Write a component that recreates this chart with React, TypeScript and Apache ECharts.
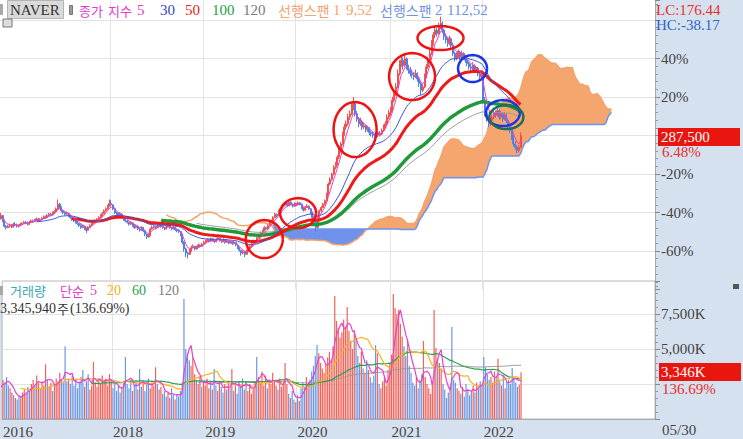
import { useEffect, useRef } from 'react';
import * as echarts from 'echarts';

// ---------- data (weekly, prices in thousand KRW, volume in thousand shares) ----------
const START_MONDAY = Date.UTC(2016, 7, 22);
const CATEGORY_COUNT = 377;
const FIRST_VISIBLE = 9;
const FIRST_LABEL_DATE = '2016-10-24';
const FIRST_LABEL = '2016';
const YEAR_TICK_DATES = ['2018-01-01', '2018-12-31', '2019-12-30', '2021-01-04', '2022-01-03'];
const YEAR_TICK_LABELS = ['2018', '2019', '2020', '2021', '2022'];
const BASE_PRICE = 287.5;

const OPEN = [
158,160,163,165,166,164,167,168,166,163, 168,160,152,150,152,153,151,155,154,152,
153,155,156,158,157,155,158,160,159,161, 163,160,162,164,166,165,168,170,169,172,
174,178,185,180,175,172,170,171,168,165, 162,160,158,156,153,150,152,148,146,150,
153,156,158,160,162,165,168,171,175,178, 182,186,184,178,172,170,168,170,166,162,
160,158,155,157,153,150,152,148,146,150, 145,140,136,138,148,150,152,150,153,155,
152,150,148,151,153,150,148,150,147,145, 144,140,128,118,112,110,115,120,122,118,
121,124,122,125,128,130,132,130,133,131, 129,132,134,131,129,132,128,130,127,129,
126,128,124,120,116,112,114,110,115,119, 122,126,130,128,134,138,142,145,150,148,
153,158,160,165,170,168,175,178,182,184, 186,183,188,185,182,186,184,187,185,180,
176,180,182,178,172,165,158,150,165,175, 180,185,190,200,215,222,230,240,245,255,
265,275,290,300,305,315,320,330,335,320, 312,305,308,300,302,296,298,292,290,288,
286,292,288,290,295,300,305,315,322,325, 340,350,360,380,395,400,392,402,390,385,
380,378,375,380,372,365,355,360,375,390, 400,410,425,438,445,440,450,455,445,435,
430,425,432,422,410,402,408,412,405,410, 406,400,395,390,388,392,385,388,380,375,
378,340,320,312,305,310,315,322,318,325, 315,320,312,318,310,300,295,285,275,270,
265,270];
const HIGH = [
162,165,167,169,168,169,171,170,167,172, 169,162,154,154,156,155,157,158,156,155,
157,158,160,160,159,160,162,162,163,165, 164,164,166,168,168,170,172,172,174,176,
180,192,187,182,177,174,174,172,169,167, 164,162,160,157,155,154,153,150,152,155,
158,160,162,164,167,170,173,177,180,184, 192,191,185,180,174,172,173,171,167,164,
162,159,159,158,155,154,153,150,152,151, 146,141,141,150,153,154,153,155,158,156,
153,151,153,155,154,151,152,151,148,147, 145,141,130,120,114,118,123,125,123,123,
126,125,127,130,132,134,133,135,134,132, 134,136,135,132,134,133,132,131,131,130,
130,129,125,121,117,116,115,117,121,124, 128,132,131,136,140,144,147,152,151,155,
160,162,167,172,171,177,180,184,187,189, 187,190,189,186,188,187,189,188,186,181,
182,185,183,179,173,167,160,167,177,182, 187,192,202,217,225,232,243,248,258,268,
278,293,305,310,320,325,335,345,337,324, 315,314,310,307,304,302,300,295,293,291,
296,294,294,298,304,309,319,326,330,345, 356,366,386,400,408,404,408,404,393,390,
386,382,386,382,375,367,364,380,394,405, 415,430,442,450,449,456,465,458,447,440,
433,437,434,424,413,412,416,414,414,412, 408,403,398,394,397,394,392,390,383,382,
380,345,325,315,314,319,326,325,330,327, 324,322,322,320,312,303,297,288,279,273,
274,292];
const LOW = [
156,159,161,163,162,163,165,164,161,162, 158,150,147,149,150,149,150,152,150,150,
152,153,155,155,153,154,157,157,158,160, 158,159,161,163,163,164,167,167,168,171,
173,177,178,173,170,168,168,166,163,160, 158,156,154,151,148,149,146,142,145,149,
152,155,157,158,161,164,167,170,174,177, 181,182,176,170,167,165,167,164,160,158,
156,153,154,151,148,149,146,144,145,143, 137,133,135,137,147,149,147,149,152,150,
148,146,147,150,148,146,147,145,143,142, 137,125,114,106,104,109,114,119,116,117,
120,120,121,124,127,129,128,129,129,127, 128,131,129,127,128,126,127,125,126,124,
125,122,118,114,108,110,106,109,114,118, 121,125,126,127,133,137,141,144,146,147,
152,156,159,164,165,167,174,177,180,183, 181,182,183,180,181,182,183,183,178,174,
175,179,176,170,162,152,143,149,164,173, 179,183,189,199,213,220,228,237,243,252,
262,273,287,296,302,311,318,325,316,308, 300,302,296,297,292,293,288,286,284,282,
285,285,286,288,293,298,303,312,318,323, 337,347,358,377,390,386,390,386,380,376,
373,370,373,368,360,348,352,358,373,387, 397,408,422,433,435,438,446,440,430,425,
420,422,418,406,398,400,404,400,402,401, 396,391,386,383,385,381,382,376,370,372,
335,316,308,300,302,307,312,314,316,311, 312,308,310,306,297,291,281,271,266,261,
262,268];
const CLOSE = [
160,163,165,166,164,167,168,166,163,168, 160,152,150,152,153,151,155,154,152,153,
155,156,158,157,155,158,160,159,161,163, 160,162,164,166,165,168,170,169,172,174,
178,185,180,175,172,170,171,168,165,162, 160,158,156,153,150,152,148,146,150,153,
156,158,160,162,165,168,171,175,178,182, 186,184,178,172,170,168,170,166,162,160,
158,155,157,153,150,152,148,146,150,145, 140,136,138,148,150,152,150,153,155,152,
150,148,151,153,150,148,150,147,145,144, 140,128,118,112,110,115,120,122,118,121,
124,122,125,128,130,132,130,133,131,129, 132,134,131,129,132,128,130,127,129,126,
128,124,120,116,112,114,110,115,119,122, 126,130,128,134,138,142,145,150,148,153,
158,160,165,170,168,175,178,182,184,186, 183,188,185,182,186,184,187,185,180,176,
180,182,178,172,165,158,150,165,175,180, 185,190,200,215,222,230,240,245,255,265,
275,290,300,305,315,320,330,335,320,312, 305,308,300,302,296,298,292,290,288,286,
292,288,290,295,300,305,315,322,325,340, 350,360,380,395,400,392,402,390,385,380,
378,375,380,372,365,355,360,375,390,400, 410,425,438,445,440,450,455,445,435,430,
425,432,422,410,402,408,412,405,410,406, 400,395,390,388,392,385,388,380,375,378,
340,320,312,305,310,315,322,318,325,315, 320,312,318,310,300,295,285,275,270,265,
270,287.5];
const VOLUME = [
2400,2100,2600,2200,2000,2500,2300,2100,2700,2800, 2600,3000,2400,2200,1900,1700,1500,1400,1700,1600,
1900,2100,1800,2300,2000,2500,2800,2400,3100,2600, 2200,2700,2400,3900,2800,2300,2600,2000,2500,2900,
2700,3300,2800,2600,5200,2700,2900,2500,3100,2400, 2800,2200,2600,3000,3500,2300,2700,3200,2100,2400,
4070,2600,2300,2800,2500,3100,2700,2900,2400,3200, 2800,2200,2600,2000,2400,1900,2300,2700,4430,2500,
2200,2800,2000,2400,2600,2100,3570,2300,2700,2000, 2500,2900,2200,2600,2400,3700,2500,2100,2300,1800,
2000,1600,1900,1500,2200,1700,1400,1800,1600,2000, 2600,8570,5000,4700,4200,3800,4400,3200,2800,2500,
3000,2300,2700,2400,2900,2200,2600,2100,3570,2400, 2000,2700,2300,1900,2500,2100,2600,2200,3570,2000,
2400,1800,2700,2300,2900,2100,2600,2000,2500,1800, 2200,2700,4430,3000,2600,3400,2400,3100,2200,2800,
2500,3300,2700,2400,2100,2900,2300,2600,4000,2500, 1800,1500,2000,1400,1200,1700,1300,2200,2600,2300,
3000,2500,2800,3400,3800,4500,5280,4700,4000,3600, 3300,3900,4400,4800,4200,5200,8780,7000,6500,5800,
6200,7100,6600,8000,6300,5500,5000,6350,5600,4500, 4000,4800,3600,3300,4200,3500,3000,2600,3100,5280,
4700,2500,2200,2700,3000,2400,3500,4000,4600,8930, 7930,7500,7800,6800,5900,5200,4500,5700,3800,3300,
2600,2400,3000,2200,2800,3200,5570,3000,2500,2200, 1800,2400,7780,5070,4300,4000,3600,2500,2100,1500,
1900,2300,6570,2800,2600,2200,2000,1800,2300,1600, 2500,2100,1700,2000,2400,1900,2600,2200,2700,2400,
4430,3700,3200,2800,3000,2600,3400,2900,4300,2700, 2400,3100,2200,2600,2800,2500,3640,2900,2600,2300,
2448,3346];

const PRICE_EMA_PERIODS = [5, 30, 50, 100, 120];
const VOLUME_MA_PERIODS = [5, 20, 60, 120];
const SPAN1_PERIODS = [9, 52];
const SPAN2_PERIOD = 112;
const CLOUD_SHIFT = 51;

const PRICE_LABEL_TICKS = [40, 20, -20, -40, -60];
const VOLUME_LABEL_TICKS = [7500, 5000];

// hand-drawn annotation ellipses (week index, price)
const MARK_WEEKS = [157, 176, 208, 240, 256, 274, 291, 293];
const MARK_PRICES = [132.8, 171.6, 296.4, 375.5, 433, 387.5, 321, 315];

// ---------- styling ----------
const MARK_RX = [18.5, 18, 21.5, 23, 23, 14.5, 17, 17];
const MARK_RY = [19, 15, 27.5, 23.5, 12, 13.5, 13, 12];
const MARK_COLORS = ['#ee1212', '#ee1212', '#ee1212', '#ee1212', '#ee1212', '#1c35e0', '#1c35e0', '#1e6e58'];
const SERIF = '"Liberation Serif", "Noto Sans CJK KR", serif';
const KR = '"Noto Sans CJK KR", sans-serif';
const UP = '#f2504a';
const DOWN = '#4f80e6';
const GRID_LINE = '#e3e3e3';

function sma(src: number[], n: number) {
  const out: (number | null)[] = [];
  let s = 0;
  for (let i = 0; i < src.length; i++) {
    s += src[i];
    if (i >= n) s -= src[i - n];
    out.push(i >= n - 1 ? s / n : null);
  }
  return out;
}
function ema(src: number[], n: number) {
  const out: (number | null)[] = [];
  const a = 2 / (n + 1);
  let s = 0;
  let e = 0;
  for (let i = 0; i < src.length; i++) {
    if (i < n - 1) { s += src[i]; out.push(null); }
    else if (i === n - 1) { s += src[i]; e = s / n; out.push(e); }
    else { e = a * src[i] + (1 - a) * e; out.push(e); }
  }
  return out;
}
function midpoint(n: number, i: number) {
  if (i < n - 1) return null;
  let h = -Infinity, l = Infinity;
  for (let k = i - n + 1; k <= i; k++) { h = Math.max(h, HIGH[k]); l = Math.min(l, LOW[k]); }
  return (h + l) / 2;
}
const pct = (p: number | null) => (p == null ? null : (p / BASE_PRICE - 1) * 100);

export default function App() {
  const ref = useRef<HTMLDivElement>(null);
  useEffect(() => {
    document.body.style.margin = '0';
    const chart = echarts.init(ref.current!, undefined, { renderer: 'svg' });

    const categories: string[] = [];
    for (let k = 0; k < CATEGORY_COUNT; k++) {
      categories.push(new Date(START_MONDAY + k * 7 * 86400000).toISOString().slice(0, 10));
    }
    const yearByDate = new Map<string, string>();
    YEAR_TICK_DATES.forEach((d, j) => yearByDate.set(d, YEAR_TICK_LABELS[j]));
    const labelByDate = new Map<string, string>(yearByDate);
    labelByDate.set(FIRST_LABEL_DATE, FIRST_LABEL);

    const candles = CLOSE.map((c, i) => [pct(OPEN[i]), pct(c), pct(LOW[i]), pct(HIGH[i])]);
    const n = CLOSE.length;
    const span1: (number | null)[] = new Array(CATEGORY_COUNT).fill(null);
    const span2: (number | null)[] = new Array(CATEGORY_COUNT).fill(null);
    for (let i = 0; i < n; i++) {
      const j = i + CLOUD_SHIFT;
      if (j >= CATEGORY_COUNT) continue;
      const a = midpoint(SPAN1_PERIODS[0], i), b = midpoint(SPAN1_PERIODS[1], i);
      span1[j] = a != null && b != null ? pct((a + b) / 2) : null;
      span2[j] = pct(midpoint(SPAN2_PERIOD, i));
    }
    const base = span1.map((v, j) => (v != null && span2[j] != null ? Math.min(v, span2[j] as number) : null));
    const upDiff = span1.map((v, j) => (v != null && span2[j] != null ? Math.max(0, v - (span2[j] as number)) : null));
    const dnDiff = span1.map((v, j) => (v != null && span2[j] != null ? Math.max(0, (span2[j] as number) - v) : null));

    const priceMA = PRICE_EMA_PERIODS.map((p) => ema(CLOSE, p).map(pct));
    const volMA = VOLUME_MA_PERIODS.map((p) => sma(VOLUME, p));

    const priceMAStyle = [
      { color: '#ec3cc4', width: 1 },
      { color: '#3a55d6', width: 1 },
      { color: '#ee1a1a', width: 3 },
      { color: '#1e9a3a', width: 3.5 },
      { color: '#9a9a9a', width: 1 },
    ];
    const volMAStyle = ['#e940cf', '#f6b21e', '#27a04a', '#9a9a9a'];

    const lineSeries = (data: any[], color: string, width: number, xi: number, z = 3) => ({
      type: 'line', data, xAxisIndex: xi, yAxisIndex: xi, symbol: 'none', silent: true, z,
      lineStyle: { color, width }, connectNulls: false,
    });

    const txt = (text: string, x: number, y: number, fill: string, size = 15, font = SERIF) => ({
      type: 'text', x, y, z: 100, style: { text, fill, fontSize: size, fontFamily: font, verticalAlign: 'middle', align: 'left' },
    });

    const graphics: any[] = [
      { type: 'rect', z: 99, shape: { x: 0, y: 4, width: 3, height: 11 }, style: { fill: '#a8a8a8' } },
      { type: 'rect', z: 99, shape: { x: 7.5, y: 0.5, width: 56, height: 18 }, style: { fill: '#dadada', stroke: '#b4b4b4' } },
      txt('NAVER', 10, 10, '#333', 15),
      { type: 'rect', z: 99, shape: { x: 69.5, y: 5.5, width: 3, height: 9 }, style: { fill: '#9a9a9a', stroke: '#777' } },
      txt('종가', 79, 10, '#e23bcb', 13, KR),
      txt('지수', 108, 10, '#e23bcb', 13, KR),
      txt('5', 137, 10, '#e23bcb'),
      txt('30', 160, 10, '#3347c6'),
      txt('50', 185, 10, '#ee2020'),
      txt('100', 212, 10, '#22a044'),
      txt('120', 243, 10, '#7a7a7a'),
      txt('선행스팬', 278, 10, '#f2a370', 14, KR),
      txt('1', 333, 10, '#f2a370'),
      txt('9,52', 346, 10, '#f2a370'),
      txt('선행스팬', 380, 10, '#7194e0', 14, KR),
      txt('2', 435, 10, '#7194e0'),
      txt('112,52', 447, 10, '#7194e0'),
      { type: 'rect', z: 99, shape: { x: 3, y: 19, width: 9, height: 8 }, style: { fill: '#ddd', stroke: '#777' } },
      txt('LC:176.44', 656, 10, '#e8302a'),
      txt('HC:-38.17', 656, 25, '#2f66d0'),
      { type: 'rect', z: 99, shape: { x: 658, y: 128, width: 82, height: 18 }, style: { fill: '#e8160f' } },
      txt('287,500', 661, 137, '#ffffff'),
      txt('6.48%', 662, 152, '#e8302a'),
      { type: 'rect', z: 99, shape: { x: 0, y: 286, width: 3, height: 9 }, style: { fill: '#a8a8a8' } },
      txt('거래량', 10, 290, '#36a6b6', 13, KR),
      txt('단순', 60, 290, '#e23bcb', 13, KR),
      txt('5', 90, 290, '#e23bcb', 14),
      txt('20', 107, 290, '#f4b020', 14),
      txt('60', 132, 290, '#27a04a', 14),
      txt('120', 158, 290, '#7a7a7a', 14),
      txt('3,345,940', 0, 308, '#333', 14),
      txt('주', 57, 308, '#333', 13, KR),
      txt('(136.69%)', 70, 308, '#333', 14),
      { type: 'rect', z: 99, shape: { x: 733, y: 284, width: 6, height: 5 }, style: { fill: '#555' } },
      { type: 'rect', z: 99, shape: { x: 659, y: 363, width: 82, height: 18 }, style: { fill: '#e8160f' } },
      txt('3,346K', 661, 372, '#ffffff'),
      txt('136.69%', 662, 389, '#e8302a'),
      txt('05/30', 662, 430, '#444'),
    ];

    const option: any = {
      animation: false,
      grid: [
        { left: 0, top: 0, width: 655, height: 289.5, show: true, backgroundColor: '#fff', borderWidth: 0 },
        { left: 0, top: 281, width: 655, height: 138, show: true, backgroundColor: '#fff', borderColor: '#b8b8b8', borderWidth: 1 },
      ],
      xAxis: [0, 1].map((gi) => ({
        type: 'category', gridIndex: gi, data: categories, min: FIRST_VISIBLE, boundaryGap: true,
        axisLine: { show: gi === 1, lineStyle: { color: '#aaa' } },
        axisTick: { show: false },
        axisLabel: gi === 1
          ? { show: true, interval: (_i: number, v: string) => labelByDate.has(v), formatter: (v: string) => labelByDate.get(v) ?? '',
              align: 'left', color: '#444', fontSize: 15, fontFamily: SERIF, margin: 5 }
          : { show: false },
        splitLine: { show: true, interval: (_i: number, v: string) => yearByDate.has(v), lineStyle: { color: GRID_LINE } },
      })),
      yAxis: [
        {
          type: 'value', gridIndex: 0, position: 'right', min: -80, max: 70.4, interval: 20,
          axisLine: { show: true, lineStyle: { color: '#aaa' } },
          axisTick: { show: true, length: 5, lineStyle: { color: '#888' } },
          minorTick: { show: true, splitNumber: 5, length: 3, lineStyle: { color: '#999' } },
          splitLine: { show: true, showMinLine: false, showMaxLine: false, lineStyle: { color: GRID_LINE } },
          axisLabel: {
            formatter: (v: number) => (PRICE_LABEL_TICKS.includes(Math.round(v * 1000) / 1000) ? `${v}%` : ''),
            color: '#444', fontSize: 15, fontFamily: SERIF, margin: 6,
          },
        },
        {
          type: 'value', gridIndex: 1, position: 'right', min: 0, max: 9857, interval: 2500,
          axisLine: { show: true, lineStyle: { color: '#aaa' } },
          axisTick: { show: true, length: 5, lineStyle: { color: '#888' } },
          minorTick: { show: true, splitNumber: 5, length: 3, lineStyle: { color: '#999' } },
          splitLine: { show: true, showMinLine: false, showMaxLine: false, lineStyle: { color: GRID_LINE } },
          axisLabel: {
            formatter: (v: number) => (VOLUME_LABEL_TICKS.includes(v) ? `${v.toLocaleString('en-US')}K` : ''),
            color: '#444', fontSize: 15, fontFamily: SERIF, margin: 6,
          },
        },
      ],
      series: [
        { type: 'line', data: base, xAxisIndex: 0, yAxisIndex: 0, stack: 'cloud', stackStrategy: 'all', symbol: 'none', silent: true, z: 1, lineStyle: { width: 0, opacity: 0 } },
        { type: 'line', data: upDiff, xAxisIndex: 0, yAxisIndex: 0, stack: 'cloud', stackStrategy: 'all', symbol: 'none', silent: true, z: 1, lineStyle: { width: 0, opacity: 0 }, areaStyle: { color: '#f5a66f', opacity: 1 } },
        { type: 'line', data: dnDiff, xAxisIndex: 0, yAxisIndex: 0, stack: 'cloud', stackStrategy: 'all', symbol: 'none', silent: true, z: 1, lineStyle: { width: 0, opacity: 0 }, areaStyle: { color: '#7092ea', opacity: 1 } },
        lineSeries(span1, '#f3a36c', 1.5, 0, 1),
        lineSeries(span2, '#6e92ee', 1.5, 0, 1),
        {
          type: 'candlestick', data: candles, xAxisIndex: 0, yAxisIndex: 0, barWidth: 1.5, silent: true, z: 2,
          itemStyle: { color: UP, color0: DOWN, borderColor: UP, borderColor0: DOWN, borderWidth: 1 },
        },
        lineSeries(priceMA[4], priceMAStyle[4].color, priceMAStyle[4].width, 0),
        lineSeries(priceMA[3], priceMAStyle[3].color, priceMAStyle[3].width, 0),
        lineSeries(priceMA[2], priceMAStyle[2].color, priceMAStyle[2].width, 0),
        lineSeries(priceMA[1], priceMAStyle[1].color, priceMAStyle[1].width, 0),
        lineSeries(priceMA[0], priceMAStyle[0].color, priceMAStyle[0].width, 0),
        {
          type: 'custom', xAxisIndex: 0, yAxisIndex: 0, silent: true, z: 5,
          data: MARK_WEEKS.map((w, k) => [w, pct(MARK_PRICES[k]), k]),
          renderItem: (_p: any, api: any) => {
            const k = api.value(2);
            const c = api.coord([api.value(0), api.value(1)]);
            const pts: number[][] = [];
            for (let s = 0; s <= 60; s++) {
              const t = (s / 60) * Math.PI * 2;
              pts.push([c[0] + MARK_RX[k] * Math.cos(t), c[1] + MARK_RY[k] * Math.sin(t)]);
            }
            return { type: 'polyline', shape: { points: pts }, style: { fill: 'none', stroke: MARK_COLORS[k], lineWidth: 2.5 } };
          },
        },
        {
          type: 'bar', xAxisIndex: 1, yAxisIndex: 1, barWidth: 1.2, silent: true,
          data: VOLUME.map((v, i) => ({ value: v, itemStyle: { color: CLOSE[i] >= OPEN[i] ? '#f0625a' : '#6b97e4' } })),
        },
        lineSeries(volMA[3], volMAStyle[3], 1, 1),
        lineSeries(volMA[2], volMAStyle[2], 1.2, 1),
        lineSeries(volMA[1], volMAStyle[1], 1.2, 1),
        lineSeries(volMA[0], volMAStyle[0], 1.2, 1),
      ],
      graphic: graphics,
    };
    chart.setOption(option);
    return () => chart.dispose();
  }, []);
  return <div ref={ref} style={{ width: 743, height: 439, background: '#d6e1ef' }} />;
}
